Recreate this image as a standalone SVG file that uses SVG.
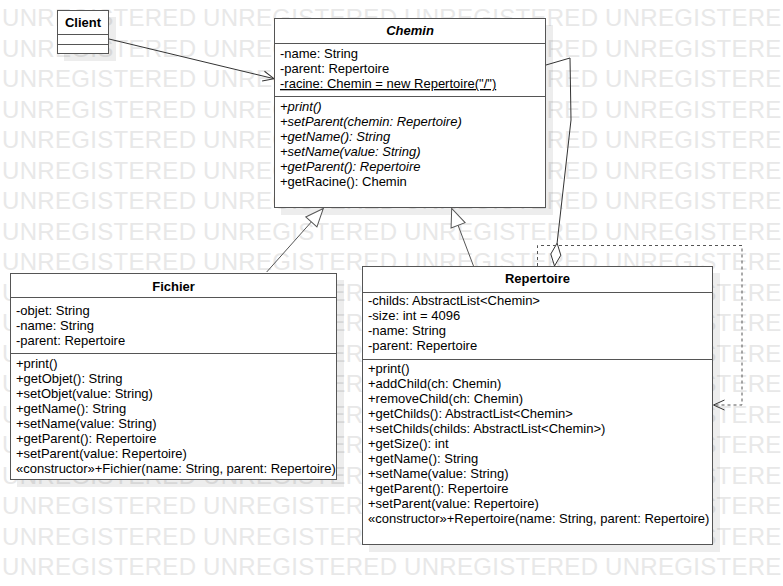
<svg xmlns="http://www.w3.org/2000/svg" width="783" height="586" viewBox="0 0 783 586">
<style>
.wm{font-family:"Liberation Sans",Arial,sans-serif;font-size:24px;fill:#e8e8e8;letter-spacing:0.3px}
.shadow{fill:#000;fill-opacity:0.07}
.box{fill:#fff;stroke:#555;stroke-width:1}
.div{stroke:#555;stroke-width:1}
.t{font-family:"Liberation Sans",Arial,sans-serif;font-size:13px;fill:#000}
.title{font-weight:bold;text-anchor:middle}
.it{font-style:italic}
.ul{text-decoration:underline}
.conn{fill:none;stroke:#333;stroke-width:1}
.gen{fill:none;stroke:#555;stroke-width:1}
.dash{fill:none;stroke:#555;stroke-width:1;stroke-dasharray:3,3}
</style>
<defs>
<marker id="open" markerUnits="userSpaceOnUse" markerWidth="14" markerHeight="12" viewBox="0 0 14 12" refX="12" refY="6" orient="auto">
<path d="M1,1 L12,6 L1,11" fill="none" stroke="#333" stroke-width="1"/>
</marker>
<marker id="tri" markerUnits="userSpaceOnUse" markerWidth="20" markerHeight="18" viewBox="0 0 20 18" refX="19" refY="9" orient="auto">
<path d="M1,1.5 L19,9 L1,16.5 Z" fill="#fff" stroke="#555" stroke-width="1"/>
</marker>
</defs>
<rect width="783" height="586" fill="#fff"/>
<g id="watermark" class="wm">
<text y="26"><tspan x="2">UNREGISTERED</tspan><tspan x="203">UNREGISTERED</tspan><tspan x="404">UNREGISTERED</tspan><tspan x="605">UNREGISTERED</tspan></text>
<text y="56.5"><tspan x="2">UNREGISTERED</tspan><tspan x="203">UNREGISTERED</tspan><tspan x="404">UNREGISTERED</tspan><tspan x="605">UNREGISTERED</tspan></text>
<text y="87"><tspan x="2">UNREGISTERED</tspan><tspan x="203">UNREGISTERED</tspan><tspan x="404">UNREGISTERED</tspan><tspan x="605">UNREGISTERED</tspan></text>
<text y="117.5"><tspan x="2">UNREGISTERED</tspan><tspan x="203">UNREGISTERED</tspan><tspan x="404">UNREGISTERED</tspan><tspan x="605">UNREGISTERED</tspan></text>
<text y="148"><tspan x="2">UNREGISTERED</tspan><tspan x="203">UNREGISTERED</tspan><tspan x="404">UNREGISTERED</tspan><tspan x="605">UNREGISTERED</tspan></text>
<text y="178.5"><tspan x="2">UNREGISTERED</tspan><tspan x="203">UNREGISTERED</tspan><tspan x="404">UNREGISTERED</tspan><tspan x="605">UNREGISTERED</tspan></text>
<text y="209"><tspan x="2">UNREGISTERED</tspan><tspan x="203">UNREGISTERED</tspan><tspan x="404">UNREGISTERED</tspan><tspan x="605">UNREGISTERED</tspan></text>
<text y="239.5"><tspan x="2">UNREGISTERED</tspan><tspan x="203">UNREGISTERED</tspan><tspan x="404">UNREGISTERED</tspan><tspan x="605">UNREGISTERED</tspan></text>
<text y="270"><tspan x="2">UNREGISTERED</tspan><tspan x="203">UNREGISTERED</tspan><tspan x="404">UNREGISTERED</tspan><tspan x="605">UNREGISTERED</tspan></text>
<text y="300.5"><tspan x="2">UNREGISTERED</tspan><tspan x="203">UNREGISTERED</tspan><tspan x="404">UNREGISTERED</tspan><tspan x="605">UNREGISTERED</tspan></text>
<text y="331"><tspan x="2">UNREGISTERED</tspan><tspan x="203">UNREGISTERED</tspan><tspan x="404">UNREGISTERED</tspan><tspan x="605">UNREGISTERED</tspan></text>
<text y="361.5"><tspan x="2">UNREGISTERED</tspan><tspan x="203">UNREGISTERED</tspan><tspan x="404">UNREGISTERED</tspan><tspan x="605">UNREGISTERED</tspan></text>
<text y="392"><tspan x="2">UNREGISTERED</tspan><tspan x="203">UNREGISTERED</tspan><tspan x="404">UNREGISTERED</tspan><tspan x="605">UNREGISTERED</tspan></text>
<text y="422.5"><tspan x="2">UNREGISTERED</tspan><tspan x="203">UNREGISTERED</tspan><tspan x="404">UNREGISTERED</tspan><tspan x="605">UNREGISTERED</tspan></text>
<text y="453"><tspan x="2">UNREGISTERED</tspan><tspan x="203">UNREGISTERED</tspan><tspan x="404">UNREGISTERED</tspan><tspan x="605">UNREGISTERED</tspan></text>
<text y="483.5"><tspan x="2">UNREGISTERED</tspan><tspan x="203">UNREGISTERED</tspan><tspan x="404">UNREGISTERED</tspan><tspan x="605">UNREGISTERED</tspan></text>
<text y="514"><tspan x="2">UNREGISTERED</tspan><tspan x="203">UNREGISTERED</tspan><tspan x="404">UNREGISTERED</tspan><tspan x="605">UNREGISTERED</tspan></text>
<text y="544.5"><tspan x="2">UNREGISTERED</tspan><tspan x="203">UNREGISTERED</tspan><tspan x="404">UNREGISTERED</tspan><tspan x="605">UNREGISTERED</tspan></text>
<text y="575"><tspan x="2">UNREGISTERED</tspan><tspan x="203">UNREGISTERED</tspan><tspan x="404">UNREGISTERED</tspan><tspan x="605">UNREGISTERED</tspan></text>
</g>
<g id="shadows">
<rect class="shadow" x="64" y="17" width="52" height="44"/>
<rect class="shadow" x="281" y="25" width="272" height="190"/>
<rect class="shadow" x="17" y="280" width="327" height="207"/>
<rect class="shadow" x="369" y="273" width="351" height="279"/>
</g>
<g id="connectors">
<path class="conn" d="M109,39 L274,78.7" marker-end="url(#open)"/>
<path class="gen" d="M266.7,272 L323.3,208.5" marker-end="url(#tri)"/>
<path class="gen" d="M473.5,266 L451.7,208.5" marker-end="url(#tri)"/>
<path class="conn" d="M546,65 L570,58 L571,120 L557.1,243.1"/>
<path d="M557.1,243.1 L560.8,255.2 L554.5,266 L550.8,254 Z" fill="#fff" stroke="#333" stroke-width="1"/>
<path class="dash" d="M537.5,266 V245.5 H742 V405 H713.5" marker-end="url(#open)"/>
</g>
<g id="Client">
<rect class="box" x="57.5" y="10.5" width="51" height="43"/>
<line class="div" x1="57.5" y1="34.5" x2="108.5" y2="34.5"/>
<line class="div" x1="57.5" y1="44.5" x2="108.5" y2="44.5"/>
<text class="t title" x="83" y="27">Client</text>
</g>
<g id="Chemin">
<rect class="box" x="274.5" y="18.5" width="271" height="189"/>
<line class="div" x1="274.5" y1="43.5" x2="545.5" y2="43.5"/>
<line class="div" x1="274.5" y1="96.5" x2="545.5" y2="96.5"/>
<text class="t title it" x="410" y="35">Chemin</text>
<text class="t" x="280" y="58">-name: String</text>
<text class="t" x="280" y="73">-parent: Repertoire</text>
<text class="t ul" x="280" y="88">-racine: Chemin = new Repertoire("/")</text>
<text class="t it" x="280" y="111">+print()</text>
<text class="t it" x="280" y="126">+setParent(chemin: Repertoire)</text>
<text class="t it" x="280" y="141">+getName(): String</text>
<text class="t it" x="280" y="156">+setName(value: String)</text>
<text class="t it" x="280" y="171">+getParent(): Repertoire</text>
<text class="t" x="280" y="186">+getRacine(): Chemin</text>
</g>
<g id="Fichier">
<rect class="box" x="10.5" y="273.5" width="326" height="206"/>
<line class="div" x1="10.5" y1="297.5" x2="336.5" y2="297.5"/>
<line class="div" x1="10.5" y1="353.5" x2="336.5" y2="353.5"/>
<text class="t title" x="173.5" y="291">Fichier</text>
<text class="t" x="16" y="315">-objet: String</text>
<text class="t" x="16" y="330">-name: String</text>
<text class="t" x="16" y="345">-parent: Repertoire</text>
<text class="t" x="16" y="368">+print()</text>
<text class="t" x="16" y="383">+getObjet(): String</text>
<text class="t" x="16" y="398">+setObjet(value: String)</text>
<text class="t" x="16" y="413">+getName(): String</text>
<text class="t" x="16" y="428">+setName(value: String)</text>
<text class="t" x="16" y="443">+getParent(): Repertoire</text>
<text class="t" x="16" y="458">+setParent(value: Repertoire)</text>
<text class="t" x="16" y="473">«constructor»+Fichier(name: String, parent: Repertoire)</text>
</g>
<g id="Repertoire">
<rect class="box" x="362.5" y="266.5" width="350" height="278"/>
<line class="div" x1="362.5" y1="292.5" x2="712.5" y2="292.5"/>
<line class="div" x1="362.5" y1="359.5" x2="712.5" y2="359.5"/>
<text class="t title" x="537.5" y="283">Repertoire</text>
<text class="t" x="368" y="305">-childs: AbstractList&lt;Chemin&gt;</text>
<text class="t" x="368" y="320">-size: int = 4096</text>
<text class="t" x="368" y="335">-name: String</text>
<text class="t" x="368" y="350">-parent: Repertoire</text>
<text class="t" x="368" y="373">+print()</text>
<text class="t" x="368" y="388">+addChild(ch: Chemin)</text>
<text class="t" x="368" y="403">+removeChild(ch: Chemin)</text>
<text class="t" x="368" y="418">+getChilds(): AbstractList&lt;Chemin&gt;</text>
<text class="t" x="368" y="433">+setChilds(childs: AbstractList&lt;Chemin&gt;)</text>
<text class="t" x="368" y="448">+getSize(): int</text>
<text class="t" x="368" y="463">+getName(): String</text>
<text class="t" x="368" y="478">+setName(value: String)</text>
<text class="t" x="368" y="493">+getParent(): Repertoire</text>
<text class="t" x="368" y="508">+setParent(value: Repertoire)</text>
<text class="t" x="368" y="523">«constructor»+Repertoire(name: String, parent: Repertoire)</text>
</g>
</svg>
